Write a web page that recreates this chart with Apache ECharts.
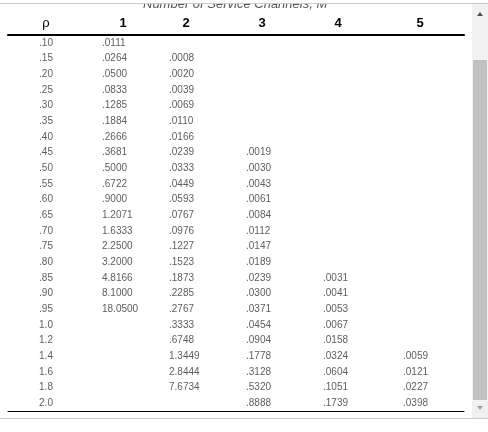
<!DOCTYPE html>
<html><head><meta charset="utf-8">
<script src="https://cdn.jsdelivr.net/npm/echarts@6/dist/echarts.min.js"></script>
<style>html,body{margin:0;padding:0;background:#fff}#c{width:488px;height:432px}</style>
</head><body><div id="c"></div>
<script>
var headers = ['ρ', '1', '2', '3', '4', '5'];
var rho = ['.10','.15','.20','.25','.30','.35','.40','.45','.50','.55','.60','.65','.70','.75','.80','.85','.90','.95','1.0','1.2','1.4','1.6','1.8','2.0'];
var m1 = ['.0111','.0264','.0500','.0833','.1285','.1884','.2666','.3681','.5000','.6722','.9000','1.2071','1.6333','2.2500','3.2000','4.8166','8.1000','18.0500','','','','','',''];
var m2 = ['','.0008','.0020','.0039','.0069','.0110','.0166','.0239','.0333','.0449','.0593','.0767','.0976','.1227','.1523','.1873','.2285','.2767','.3333','.6748','1.3449','2.8444','7.6734',''];
var m3 = ['','','','','','','','.0019','.0030','.0043','.0061','.0084','.0112','.0147','.0189','.0239','.0300','.0371','.0454','.0904','.1778','.3128','.5320','.8888'];
var m4 = ['','','','','','','','','','','','','','','','.0031','.0041','.0053','.0067','.0158','.0324','.0604','.1051','.1739'];
var m5 = ['','','','','','','','','','','','','','','','','','','','','.0059','.0121','.0227','.0398'];
var title = 'Number of Service Channels, M';

var cols = [rho, m1, m2, m3, m4, m5];
var offs = [0, -20, -29, -28, -27, -23];
var headPad = [[0, 0, 0, 0], [0, 0, 0, 2], [0, 24, 0, 0], [0, 24, 0, 0], [0, 24, 0, 0], [0, 12, 0, 0]];
var series = cols.map(function (col, ci) {
  var data = [];
  col.forEach(function (v, ri) { if (v) data.push([ci, ri, v]); });
  return {
    type: 'scatter', symbolSize: 0, data: data, silent: true,
    label: { show: true, position: 'inside', offset: [offs[ci], 0],
      align: ci === 0 ? 'center' : 'left',
      formatter: function (p) { return p.value[2]; },
      fontFamily: 'Liberation Sans', fontSize: 10, color: '#333' }
  };
});

var rich = {};
headPad.forEach(function (p, i) {
  rich['h' + i] = { padding: p, color: '#000', fontFamily: 'Liberation Sans', fontSize: 13,
    fontWeight: i === 0 ? 'normal' : 'bold' };
});

var chart = echarts.init(document.getElementById('c'));
chart.setOption({
  animation: false,
  grid: { left: 8, right: 24, top: 35, bottom: 21 },
  xAxis: [{
    type: 'category', data: headers, position: 'top',
    axisLine: { lineStyle: { color: '#000', width: 2 } }, axisTick: { show: false },
    axisLabel: { margin: 5, rich: rich,
      formatter: function (v, i) { return '{h' + i + '|' + v + '}'; } }
  }, {
    type: 'category', data: headers, position: 'bottom',
    axisLine: { lineStyle: { color: '#000', width: 1 } }, axisTick: { show: false }, axisLabel: { show: false }
  }],
  yAxis: { type: 'category', data: rho, inverse: true, show: false },
  series: series,
  graphic: [
    { type: 'text', left: 143, top: -2, style: { text: title, font: 'italic 13px Liberation Sans', fill: '#555' } },
    { type: 'rect', shape: { x: 0, y: 0, width: 488, height: 3 }, style: { fill: '#fff' } },
    { type: 'line', shape: { x1: 0, y1: 3.5, x2: 488, y2: 3.5 }, style: { stroke: '#ccc' } },
    { type: 'line', shape: { x1: 0, y1: 418.5, x2: 488, y2: 418.5 }, style: { stroke: '#ccc' } },
    { type: 'rect', shape: { x: 472, y: 4, width: 16, height: 414 }, style: { fill: '#f1f1f1' } },
    { type: 'rect', shape: { x: 473, y: 60, width: 14, height: 340 }, style: { fill: '#c1c1c1' } },
    { type: 'polygon', shape: { points: [[477, 16], [483, 16], [480, 12]] }, style: { fill: '#505050' } },
    { type: 'polygon', shape: { points: [[477, 406], [483, 406], [480, 410]] }, style: { fill: '#a3a3a3' } }
  ]
});
</script></body></html>
